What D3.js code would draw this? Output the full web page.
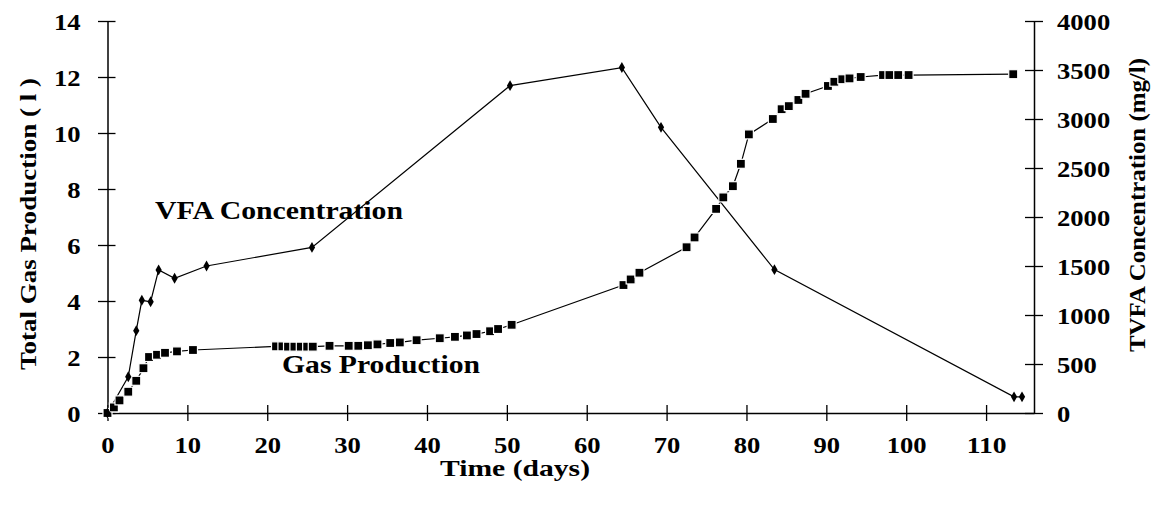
<!DOCTYPE html>
<html><head><meta charset="utf-8">
<script src="https://cdn.jsdelivr.net/npm/d3@7"></script>
<style>
html,body{margin:0;padding:0;background:#fff;}
</style></head>
<body><svg id="c" width="1162" height="511"></svg>
<script>
// ---- data ----
const gasDays = [0, 0.8, 1.5, 2.6, 3.6, 4.5, 5.2, 6.2, 7.2, 8.7, 10.7,
  21.1, 21.9, 22.6, 23.4, 24.2, 25, 25.7, 27.8, 30.2, 31.4, 32.6, 33.8, 35.4, 36.6,
  38.7, 41.6, 43.5, 45, 46.2, 47.9, 48.9, 50.6,
  64.6, 65.5, 66.6, 72.5, 73.5, 76.2, 77.1, 78.3, 79.3, 80.3,
  83.3, 84.4, 85.3, 86.5, 87.4, 90.2, 91, 92, 92.9, 94.3, 97.1, 97.9, 99, 100.3, 113.4];
const gasValues = [0, 0.2, 0.45, 0.76, 1.15, 1.6, 2.0, 2.08, 2.15, 2.2, 2.25,
  2.38, 2.38, 2.37, 2.37, 2.37, 2.37, 2.37, 2.4, 2.4, 2.4, 2.42, 2.45, 2.5, 2.52,
  2.6, 2.67, 2.72, 2.77, 2.82, 2.92, 3.0, 3.15,
  4.57, 4.77, 5.01, 5.92, 6.27, 7.29, 7.7, 8.1, 8.9, 9.95,
  10.5, 10.85, 10.96, 11.18, 11.4, 11.68, 11.83, 11.92, 11.95, 12.0, 12.07, 12.07, 12.07, 12.07, 12.1];
const vfaDays = [0, 2.6, 3.6, 4.3, 5.4, 6.4, 8.4, 12.4, 25.6, 50.4, 64.4, 69.3, 83.5, 113.5, 114.5];
const vfaValues = [0, 370, 840, 1150, 1135, 1460, 1375, 1500, 1690, 3340, 3525, 2915, 1463, 165, 165];
const xTicks = [0, 10, 20, 30, 40, 50, 60, 70, 80, 90, 100, 110];
const leftTicks = [0, 2, 4, 6, 8, 10, 12, 14];
const rightTicks = [0, 500, 1000, 1500, 2000, 2500, 3000, 3500, 4000];

const FONT = '"Liberation Serif", "Times New Roman", serif';

// ---- layout ----
const svg = d3.select("#c").style("font-family", FONT);
const L = 107.5, R = 1034, T = 21, B = 413;
const x = d3.scaleLinear().domain([0, 116]).range([L, R]);
const yL = d3.scaleLinear().domain([0, 14]).range([B, T]);
const yR = d3.scaleLinear().domain([0, 4000]).range([B, T]);
const perDigit = 13.3;

function styleAxis(g) {
  g.attr("font-family", null).attr("font-size", null);
  g.select(".domain").attr("stroke", "#000").attr("stroke-width", 1.5);
  g.selectAll(".tick line").attr("stroke", "#000").attr("stroke-width", 1.3);
  g.selectAll(".tick text")
    .style("font-family", FONT).style("font-weight", "bold").style("font-size", "23px")
    .attr("fill", "#000")
    .attr("textLength", d => String(d).length * perDigit)
    .attr("lengthAdjust", "spacingAndGlyphs");
}
const fmt = d3.format("d");

const gx = svg.append("g").attr("transform", `translate(0,${B})`)
  .call(d3.axisBottom(x).tickValues(xTicks).tickFormat(fmt).tickSize(0).tickPadding(0).tickSizeOuter(0));
gx.selectAll(".tick line").attr("y1", -8).attr("y2", 8);
gx.selectAll(".tick text").attr("dy", null).attr("y", 40);
styleAxis(gx);

const gl = svg.append("g").attr("transform", `translate(${L},0)`)
  .call(d3.axisLeft(yL).tickValues(leftTicks).tickFormat(fmt).tickSize(0).tickSizeOuter(0));
gl.selectAll(".tick line").attr("x1", -9.5).attr("x2", 8);
gl.selectAll(".tick text").attr("x", -27).attr("dy", "0.35em");
styleAxis(gl);

const gr = svg.append("g").attr("transform", `translate(${R},0)`)
  .call(d3.axisRight(yR).tickValues(rightTicks).tickFormat(fmt).tickSize(0).tickSizeOuter(0));
gr.selectAll(".tick line").attr("x1", -9).attr("x2", 9);
gr.selectAll(".tick text").attr("x", 23).attr("dy", "0.35em");
styleAxis(gr);

const gasData = gasDays.map((d, i) => [d, gasValues[i]]);
const vfaData = vfaDays.map((d, i) => [d, vfaValues[i]]);
svg.append("path").datum(gasData)
  .attr("d", d3.line().x(d => x(d[0])).y(d => yL(d[1])))
  .attr("fill", "none").attr("stroke", "#000").attr("stroke-width", 1.2);
svg.append("path").datum(vfaData)
  .attr("d", d3.line().x(d => x(d[0])).y(d => yR(d[1])))
  .attr("fill", "none").attr("stroke", "#000").attr("stroke-width", 1.2);

const sqW = 9, sqH = 9;
svg.append("g").selectAll("rect").data(gasData).join("rect")
  .attr("x", d => x(d[0]) - sqW / 2).attr("y", d => yL(d[1]) - sqH / 2)
  .attr("width", sqW).attr("height", sqH).attr("fill", "#000")
  .attr("stroke", "#fff").attr("stroke-width", 1.2);
svg.append("g").selectAll("path").data(vfaData).join("path")
  .attr("d", d3.symbol().type(d3.symbolDiamond).size(34))
  .attr("transform", d => `translate(${x(d[0])},${yR(d[1])})`)
  .attr("fill", "#000");

function label(txt, size, len) {
  return svg.append("text").style("font-family", FONT).style("font-weight", "bold")
    .style("font-size", size + "px").attr("fill", "#000")
    .attr("textLength", len).attr("lengthAdjust", "spacingAndGlyphs").text(txt);
}
label("VFA Concentration", 25, 248).attr("x", 155).attr("y", 219);
label("Gas Production", 25, 198).attr("x", 282).attr("y", 373);
label("Time (days)", 23, 150).attr("x", 515).attr("y", 476).attr("text-anchor", "middle");
label("Total Gas Production ( l )", 23, 292).attr("text-anchor", "middle")
  .attr("transform", "translate(36,224) rotate(-90)");
label("TVFA Concentration (mg/l)", 23, 294).attr("text-anchor", "middle")
  .attr("transform", "translate(1145,205) rotate(-90)");
</script></body></html>
